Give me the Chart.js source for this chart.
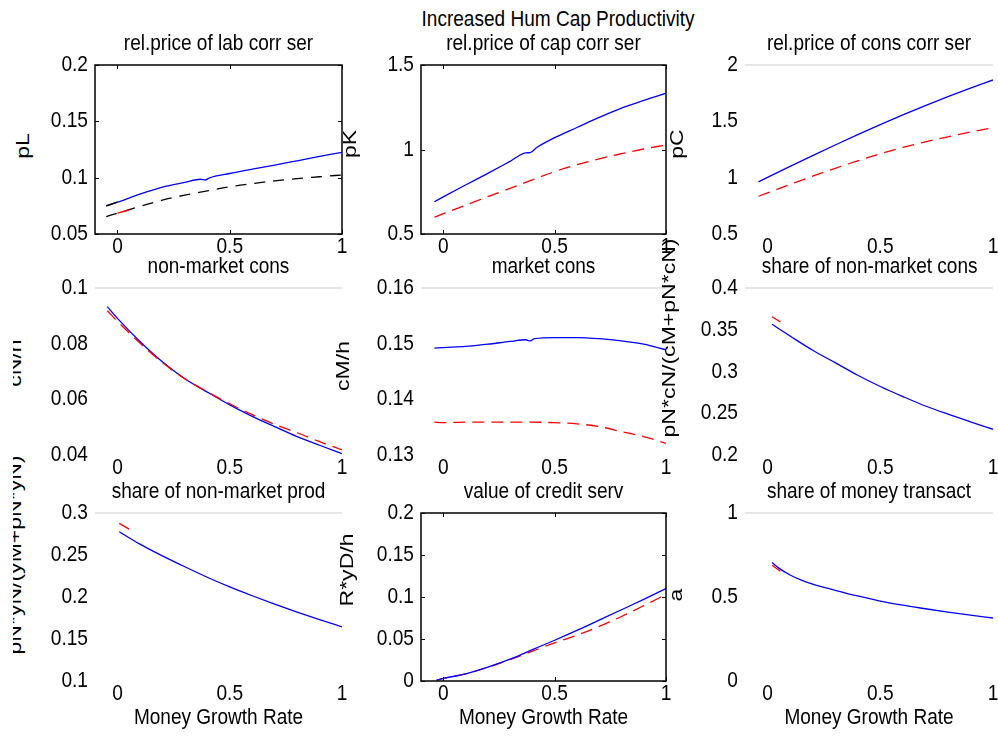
<!DOCTYPE html>
<html>
<head>
<meta charset="utf-8">
<script src="https://cdn.jsdelivr.net/npm/chart.js@4.4.1/dist/chart.umd.min.js"></script>
<style>
  body { margin: 0; width: 998px; height: 736px; overflow: hidden; position: relative; background: #fff;
         font-family: "Liberation Sans", Arial, sans-serif; }
  canvas { position: absolute; }
  .txt { position: absolute; font-size: 22px; line-height: 22px; white-space: nowrap; color: #000;
         transform: scaleX(0.865); }
  .title { text-align: center; }
  .ylab { font-size: 18px; transform: translate(-50%, -50%) rotate(-90deg) scaleX(1.28); }
  #leftclip { position: absolute; left: 13px; top: 0; width: 40px; height: 736px; overflow: hidden; }
</style>
</head>
<body>
<div class="txt title" style="left:400px;top:8px;width:316px;">Increased Hum Cap Productivity</div>
<div id="leftclip"></div>
<script>
// money growth rate grid and results, one block per panel
const xTicks = [0, 0.5, 1];
const xTickLabels = ['0', '0.5', '1'];

// rel. price of labour-corrected services
const pLGrowth = [-0.05, 0, 0.1, 0.2, 0.3, 0.37, 0.39, 0.41, 0.5, 0.6, 0.7, 0.8, 0.9, 1];
const pLHigh = [0.0749, 0.0782, 0.0853, 0.0915, 0.0958, 0.0986, 0.0978, 0.0999, 0.1037, 0.1075, 0.1112, 0.1150, 0.1188, 0.1225];
const pLLowGrowth = [-0.05, 0, 0.1, 0.2, 0.3, 0.4, 0.5, 0.6, 0.7, 0.8, 0.9, 1];
const pLLow = [0.0654, 0.0685, 0.0745, 0.0800, 0.0845, 0.0882, 0.0920, 0.0947, 0.0972, 0.0992, 0.1008, 0.1024];
const pLStartGrowth = [-0.05, 0];
const pLStart = [0.0749, 0.0782];
const pLRedGrowth = [0, 0.052];
const pLRed = [0.0685, 0.0713];
const pLTicks = [0.05, 0.1, 0.15, 0.2];
const pLTickLabels = ['0.05', '0.1', '0.15', '0.2'];

// rel. price of capital-corrected services
const pKGrowth = [-0.04, 0, 0.1, 0.2, 0.3, 0.37, 0.39, 0.42, 0.5, 0.6, 0.7, 0.8, 0.9, 1];
const pKHigh = [0.691, 0.72, 0.79, 0.859, 0.93, 0.980, 0.982, 1.012, 1.07, 1.13, 1.19, 1.245, 1.29, 1.333];
const pKLowGrowth = [-0.04, 0, 0.1, 0.2, 0.3, 0.4, 0.5, 0.6, 0.7, 0.8, 0.9, 1];
const pKLow = [0.599, 0.62, 0.67, 0.721, 0.77, 0.82, 0.869, 0.91, 0.945, 0.975, 1.003, 1.027];
const pKTicks = [0.5, 1, 1.5];
const pKTickLabels = ['0.5', '1', '1.5'];

// rel. price of consumption-corrected services
const pCGrowth = [-0.04, 0, 0.1, 0.2, 0.3, 0.4, 0.5, 0.6, 0.7, 0.8, 0.9, 1];
const pCHigh = [0.962, 1.002, 1.100, 1.196, 1.290, 1.382, 1.471, 1.557, 1.640, 1.719, 1.795, 1.867];
const pCLow = [0.835, 0.865, 0.940, 1.013, 1.083, 1.150, 1.212, 1.268, 1.318, 1.363, 1.405, 1.444];
const pCTicks = [0.5, 1, 1.5, 2];
const pCTickLabels = ['0.5', '1', '1.5', '2'];

// non-market consumption
const cNGrowth = [-0.045, 0, 0.1, 0.2, 0.3, 0.4, 0.5, 0.6, 0.7, 0.8, 0.9, 1];
const cNHigh = [0.0933, 0.0891, 0.0808, 0.0735, 0.0674, 0.0626, 0.0580, 0.0539, 0.0502, 0.0466, 0.0435, 0.0405];
const cNLow = [0.0918, 0.0880, 0.0802, 0.0732, 0.0674, 0.0627, 0.0584, 0.0545, 0.0510, 0.0480, 0.0448, 0.0418];
const cNTicks = [0.04, 0.06, 0.08, 0.1];
const cNTickLabels = ['0.04', '0.06', '0.08', '0.1'];

// market consumption
const cMGrowth = [-0.04, 0, 0.1, 0.2, 0.3, 0.37, 0.39, 0.41, 0.5, 0.6, 0.7, 0.8, 0.9, 1];
const cMHigh = [0.1492, 0.1493, 0.1495, 0.1499, 0.1504, 0.1507, 0.1505, 0.1509, 0.1511, 0.1511, 0.1509, 0.1505, 0.1499, 0.1489];
const cMLowGrowth = [-0.04, 0, 0.1, 0.2, 0.3, 0.4, 0.5, 0.6, 0.7, 0.8, 0.9, 1];
const cMLow = [0.1359, 0.1358, 0.1359, 0.1359, 0.1359, 0.1359, 0.1358, 0.1356, 0.1351, 0.1342, 0.1333, 0.1321];
const cMTicks = [0.13, 0.14, 0.15, 0.16];
const cMTickLabels = ['0.13', '0.14', '0.15', '0.16'];

// share of non-market consumption
const shareNGrowth = [0.02, 0.1, 0.2, 0.3, 0.4, 0.5, 0.6, 0.7, 0.8, 0.9, 1];
const shareNHigh = [0.3565, 0.3425, 0.3255, 0.3106, 0.2955, 0.2820, 0.2700, 0.2587, 0.2490, 0.2398, 0.2308];
const shareNLowGrowth = [0.02, 0.057];
const shareNLow = [0.3656, 0.3593];
const shareNTicks = [0.2, 0.25, 0.3, 0.35, 0.4];
const shareNTickLabels = ['0.2', '0.25', '0.3', '0.35', '0.4'];

// share of non-market production
const sharePGrowth = [0.008, 0.1, 0.2, 0.3, 0.4, 0.5, 0.6, 0.7, 0.8, 0.9, 1];
const sharePHigh = [0.2776, 0.263, 0.249, 0.236, 0.2235, 0.212, 0.2015, 0.1915, 0.182, 0.173, 0.1645];
const sharePLowGrowth = [0.008, 0.052];
const sharePLow = [0.2877, 0.2808];
const sharePTicks = [0.1, 0.15, 0.2, 0.25, 0.3];
const sharePTickLabels = ['0.1', '0.15', '0.2', '0.25', '0.3'];

// value of credit services
const creditGrowth = [-0.03, 0, 0.1, 0.2, 0.3, 0.4, 0.5, 0.6, 0.7, 0.8, 0.9, 1];
const creditHigh = [0.001, 0.003, 0.0085, 0.0165, 0.026, 0.0373, 0.0485, 0.0602, 0.0725, 0.0848, 0.0972, 0.110];
const creditLow = [0.001, 0.003, 0.0085, 0.0163, 0.0255, 0.0355, 0.0455, 0.0545, 0.0650, 0.0768, 0.0897, 0.1030];
const creditTicks = [0, 0.05, 0.1, 0.15, 0.2];
const creditTickLabels = ['0', '0.05', '0.1', '0.15', '0.2'];

// share of money transactions
const moneyGrowth = [0.02, 0.05, 0.1, 0.15, 0.2, 0.3, 0.4, 0.5, 0.6, 0.7, 0.8, 0.9, 1];
const moneyHigh = [0.705, 0.672, 0.631, 0.600, 0.576, 0.540, 0.506, 0.476, 0.451, 0.430, 0.410, 0.392, 0.375];
const moneyLowGrowth = [0.02, 0.057];
const moneyLow = [0.689, 0.653];
const moneyTicks = [0, 0.5, 1];
const moneyTickLabels = ['0', '0.5', '1'];

const BLUE = '#0000ff', RED = '#ff0000', BLACK = '#000000';
const FONT = '"Liberation Sans", Arial, sans-serif';
const SQUEEZE = 0.87;

// plot boxes for the 3x3 grid
const cols = [{ l: 95, r: 342 }, { l: 421, r: 666 }, { l: 745, r: 993 }];
const rows = [{ t: 65, b: 234 }, { t: 288, b: 455 }, { t: 513, b: 681 }];
const PAD_L = 70, PAD_T = 15, PAD_R = 10, PAD_B = 35;

const pts = (xs, ys) => xs.map((x, i) => ({ x: x, y: ys[i] }));

function line(xs, ys, color, dash) {
    return {
        data: pts(xs, ys),
        borderColor: color,
        borderWidth: 1.3,
        borderDash: dash || [],
        pointRadius: 0,
        cubicInterpolationMode: 'monotone',
        fill: false
    };
}

function squeezedText(ctx, text, x, y, align) {
    ctx.save();
    ctx.translate(x, y);
    ctx.scale(SQUEEZE, 1);
    ctx.textAlign = align;
    ctx.fillText(text, 0, 0);
    ctx.restore();
}

// box with inward ticks (or a faint top line) plus narrow tick labels
const framePlugin = {
    id: 'frame',
    afterDatasetsDraw(chart, args, opts) {
        const { ctx, chartArea: a, scales } = chart;
        ctx.save();
        if (opts.box) {
            ctx.strokeStyle = '#000';
            ctx.lineWidth = 1.5;
            ctx.strokeRect(a.left, a.top, a.right - a.left, a.bottom - a.top);
            ctx.lineWidth = 1;
            ctx.beginPath();
            scales.x.ticks.forEach(t => {
                const px = Math.round(scales.x.getPixelForValue(t.value)) + 0.5;
                ctx.moveTo(px, a.bottom); ctx.lineTo(px, a.bottom - 4);
                ctx.moveTo(px, a.top); ctx.lineTo(px, a.top + 4);
            });
            scales.y.ticks.forEach(t => {
                const py = Math.round(scales.y.getPixelForValue(t.value)) + 0.5;
                ctx.moveTo(a.left, py); ctx.lineTo(a.left + 4, py);
                ctx.moveTo(a.right, py); ctx.lineTo(a.right - 4, py);
            });
            ctx.stroke();
        } else {
            ctx.strokeStyle = '#dcdcdc';
            ctx.lineWidth = 1.5;
            ctx.beginPath();
            ctx.moveTo(a.left, a.top);
            ctx.lineTo(a.right, a.top);
            ctx.stroke();
        }

        ctx.fillStyle = '#000';
        ctx.font = '22px ' + FONT;
        ctx.textBaseline = 'middle';
        scales.x.ticks.forEach((t, i) => {
            squeezedText(ctx, xTickLabels[i], scales.x.getPixelForValue(t.value), a.bottom + 13, 'center');
        });
        scales.y.ticks.forEach((t, i) => {
            squeezedText(ctx, opts.yLabels[i], a.left - 7, scales.y.getPixelForValue(t.value), 'right');
        });
        ctx.restore();
    }
};

function addText(text, cls, style, parent) {
    const d = document.createElement('div');
    d.className = 'txt ' + cls;
    d.textContent = text;
    Object.assign(d.style, style);
    (parent || document.body).appendChild(d);
}

function panel(r, c, title, yTicks, yTickLabels, datasets, box) {
    const col = cols[c], row = rows[r];
    const w = col.r - col.l, h = row.b - row.t;
    const canvas = document.createElement('canvas');
    canvas.width = w + PAD_L + PAD_R;
    canvas.height = h + PAD_T + PAD_B;
    canvas.style.left = (col.l - PAD_L) + 'px';
    canvas.style.top = (row.t - PAD_T) + 'px';
    document.body.appendChild(canvas);

    addText(title, 'title', { left: col.l + 'px', top: (row.t - 33) + 'px', width: w + 'px' });

    new Chart(canvas.getContext('2d'), {
        type: 'line',
        data: { datasets: datasets },
        options: {
            responsive: false,
            animation: false,
            events: [],
            layout: { padding: { top: PAD_T, right: PAD_R, left: 0, bottom: 0 } },
            plugins: {
                legend: { display: false },
                tooltip: { enabled: false },
                frame: { box: box, yLabels: yTickLabels }
            },
            scales: {
                x: {
                    type: 'linear', min: -0.1, max: 1,
                    grid: { display: false, drawTicks: false },
                    border: { display: false },
                    afterBuildTicks: s => { s.ticks = xTicks.map(v => ({ value: v })); },
                    afterFit: s => { s.height = PAD_B; },
                    ticks: { display: false }
                },
                y: {
                    type: 'linear', min: yTicks[0], max: yTicks[yTicks.length - 1],
                    grid: { display: false, drawTicks: false },
                    border: { display: false },
                    afterBuildTicks: s => { s.ticks = yTicks.map(v => ({ value: v })); },
                    afterFit: s => { s.width = PAD_L; },
                    ticks: { display: false }
                }
            }
        },
        plugins: [framePlugin]
    });
}

document.addEventListener('DOMContentLoaded', () => {
    panel(0, 0, 'rel.price of lab corr ser', pLTicks, pLTickLabels, [
        line(pLStartGrowth, pLStart, BLACK),
        line(pLRedGrowth, pLRed, RED),
        line(pLGrowth, pLHigh, BLUE),
        line(pLLowGrowth, pLLow, BLACK, [11, 8])
    ], true);
    panel(0, 1, 'rel.price of cap corr ser', pKTicks, pKTickLabels, [
        line(pKGrowth, pKHigh, BLUE),
        line(pKLowGrowth, pKLow, RED, [12, 7])
    ], true);
    panel(0, 2, 'rel.price of cons corr ser', pCTicks, pCTickLabels, [
        line(pCGrowth, pCHigh, BLUE),
        line(pCGrowth, pCLow, RED, [12, 7])
    ], false);

    panel(1, 0, 'non-market cons', cNTicks, cNTickLabels, [
        line(cNGrowth, cNLow, RED, [12, 7]),
        line(cNGrowth, cNHigh, BLUE)
    ], false);
    panel(1, 1, 'market cons', cMTicks, cMTickLabels, [
        line(cMGrowth, cMHigh, BLUE),
        line(cMLowGrowth, cMLow, RED, [12, 7])
    ], false);
    panel(1, 2, 'share of non-market cons', shareNTicks, shareNTickLabels, [
        line(shareNGrowth, shareNHigh, BLUE),
        line(shareNLowGrowth, shareNLow, RED)
    ], false);

    panel(2, 0, 'share of non-market prod', sharePTicks, sharePTickLabels, [
        line(sharePGrowth, sharePHigh, BLUE),
        line(sharePLowGrowth, sharePLow, RED)
    ], false);
    panel(2, 1, 'value of credit serv', creditTicks, creditTickLabels, [
        line(creditGrowth, creditHigh, BLUE),
        line(creditGrowth, creditLow, RED, [12, 7])
    ], true);
    panel(2, 2, 'share of money transact', moneyTicks, moneyTickLabels, [
        line(moneyGrowth, moneyHigh, BLUE),
        line(moneyLowGrowth, moneyLow, RED)
    ], false);

    // y-axis names; the left column is cut at the figure edge
    const clip = document.getElementById('leftclip');
    addText('pL', 'ylab', { left: '10px', top: '146px' }, clip);
    addText('cN/h', 'ylab', { left: '2px', top: '363px' }, clip);
    addText('pN*yN/(yM+pN*yN)', 'ylab', { left: '2px', top: '555px' }, clip);
    addText('pK', 'ylab', { left: '350px', top: '144px' });
    addText('pC', 'ylab', { left: '677px', top: '144px' });
    addText('cM/h', 'ylab', { left: '343px', top: '366px' });
    addText('pN*cN/(cM+pN*cN)', 'ylab', { left: '669px', top: '338px' });
    addText('R*yD/h', 'ylab', { left: '347px', top: '570px' });
    addText('a', 'ylab', { left: '676px', top: '595px' });

    // x-axis names under the bottom row
    cols.forEach(col => {
        addText('Money Growth Rate', 'title', { left: col.l + 'px', top: '706px', width: (col.r - col.l) + 'px' });
    });
});
</script>
</body>
</html>
